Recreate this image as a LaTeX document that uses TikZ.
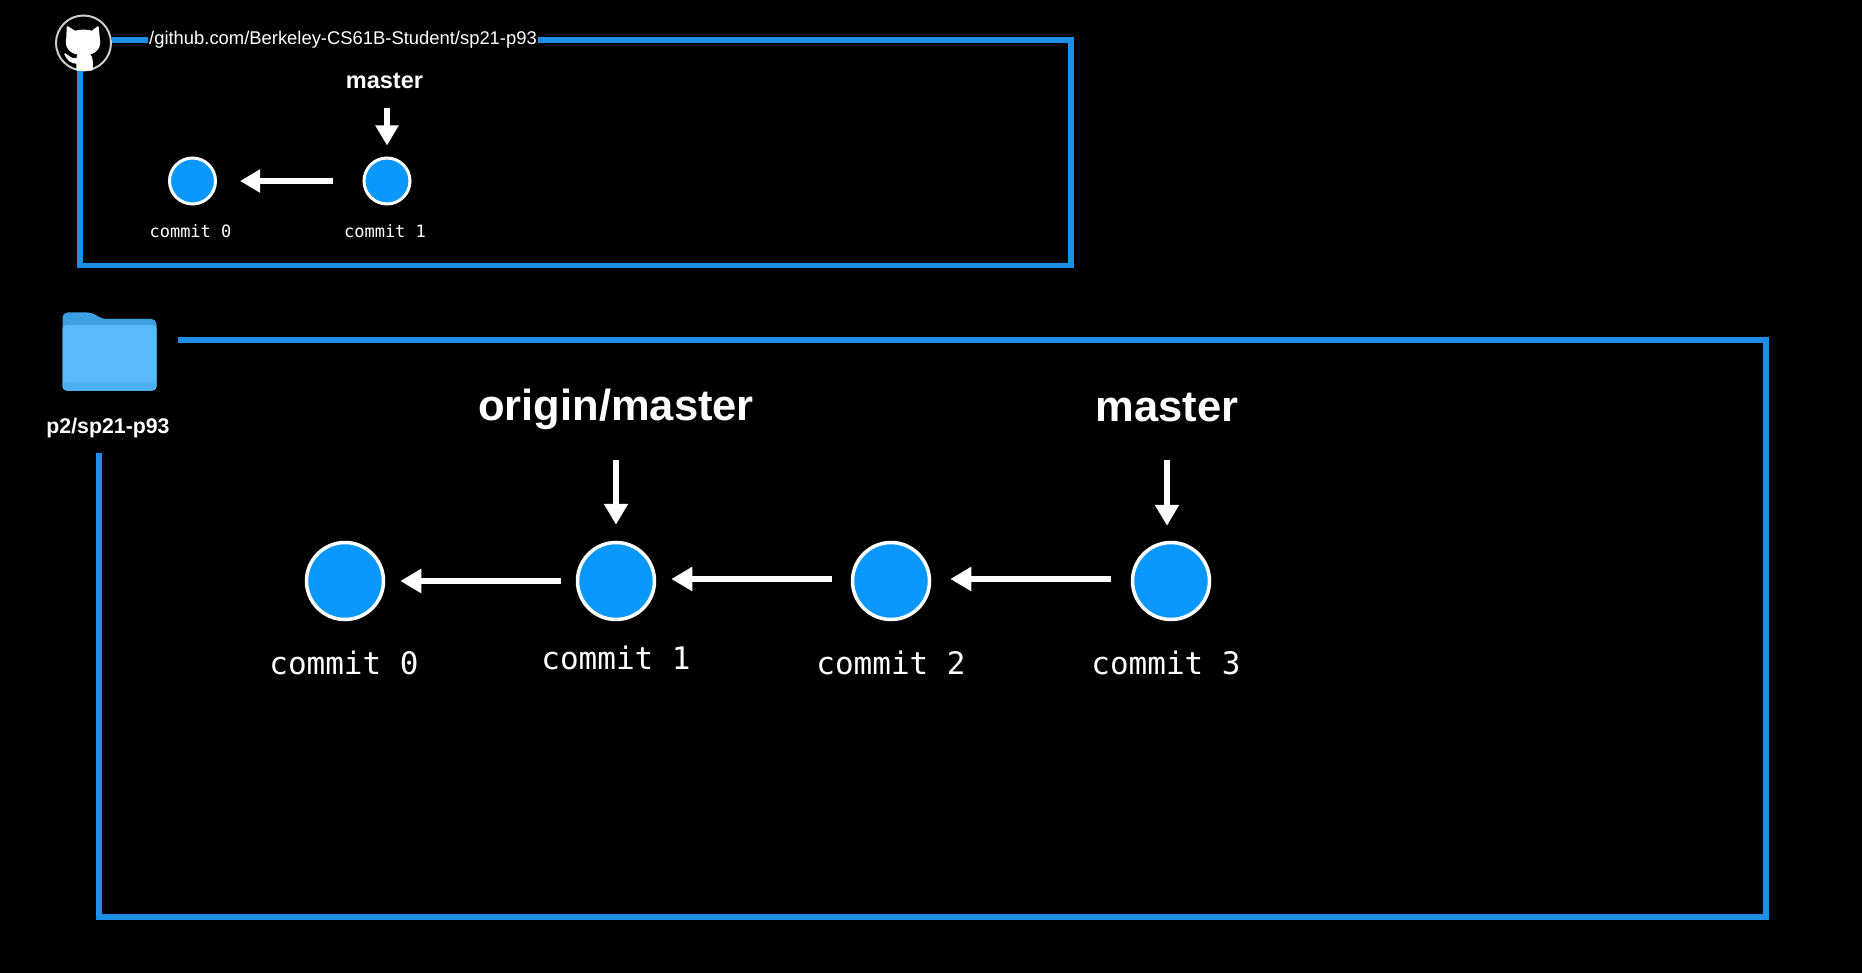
\documentclass[tikz,border=0pt]{standalone}
\usepackage{xcolor}
\usepackage{fontspec}
\usepackage{tikz}
\usetikzlibrary{arrows.meta, positioning}
\setmainfont{Liberation Sans}
\newfontfamily\commitfont{DejaVu Sans Mono}
\definecolor{framecolor}{HTML}{1E8FE6}
\definecolor{commitblue}{HTML}{0A98FF}
\definecolor{folderback}{HTML}{3C9FE2}
\definecolor{folderfront}{HTML}{57BBF9}
\definecolor{folderedge}{HTML}{4DB0F0}
\tikzset{
    frameline/.style={draw=framecolor, line width=5.5pt, line join=miter},
    bigcommit/.style={circle, draw=white, fill=commitblue, line width=3.5pt, minimum size=77pt, inner sep=0pt},
    smallcommit/.style={circle, draw=white, fill=commitblue, line width=3pt, minimum size=46pt, inner sep=0pt},
    biglabel/.style={text=white, font=\commitfont\fontsize{31}{34}\selectfont, inner sep=0pt},
    smalllabel/.style={text=white, font=\commitfont\fontsize{17}{20}\selectfont, inner sep=0pt},
    bigbranch/.style={text=white, font=\bfseries\fontsize{43.5}{48}\selectfont, inner sep=0pt},
    smallbranch/.style={text=white, font=\bfseries\fontsize{23.5}{28}\selectfont, inner sep=0pt},
    bigarrow/.style={draw=white, line width=6pt, -{Triangle[length=21pt, width=23pt]}},
    smallarrow/.style={draw=white, line width=6pt, -{Triangle[length=20pt, width=22pt]}},
}

\begin{document}
\begin{tikzpicture}[x=1pt, y=-1pt]
\fill[black] (0,0) rectangle (1862,973);
\useasboundingbox (0,0) rectangle (1862,973);

% remote repository
\coordinate (remotetr) at (1071,40);
\coordinate (remotebr) at (1071,265.5);
\coordinate (remotebl) at (80,265.5);
\node[circle, draw=white!80!black, fill=black, line width=2pt, minimum size=55pt, inner sep=0pt] (hub) at (83.5,43) {};
\node[text=white, font=\fontsize{18.4}{22}\selectfont, inner sep=1pt] (url) at (343,40) {/github.com/Berkeley-CS61B-Student/sp21-p93};
\draw[frameline] (hub.east |- url) -- (url.west);
\draw[frameline] (url.east) -- (remotetr) -- (remotebr) -- (remotebl) -- (remotebl |- hub.south);
\fill[white, draw=white, line width=1.5pt, line join=round] (67.5,27) -- (75,31.5) .. controls (80,30) and (87,30) .. (92,31.5) -- (98,27)
    -- (99,38) .. controls (101,47) and (96,53) .. (89,54) .. controls (91,56) and (92,58) .. (92,61)
    -- (92,70) -- (77,70) -- (77,63) .. controls (71,63) and (68,60) .. (65,54)
    .. controls (68,56) and (72,60) .. (77,59) .. controls (77,57) and (78,55) .. (79,54)
    .. controls (70,53) and (65,47) .. (67,38) -- cycle;

\node[smallcommit] (rc0) at (192.5,181) {};
\node[smallcommit] (rc1) at (387,181) {};
\node[smalllabel] (rl0) at (190.5,231) {commit 0};
\node[smalllabel] (rl1) at (385,231) {commit 1};
\node[smallbranch] (rmaster) at (384.5,81) {master};
\draw[smallarrow, shorten >=23pt, shorten <=30pt] (rc1) -- (rc0);
\draw[smallarrow, shorten >=11pt, shorten <=19pt] (rmaster.south -| rc1) -- (rc1);

% local repository
\fill[folderback, rounded corners=5pt] (62.5,390.5) -- (62.5,312.5) -- (92,312.5) -- (102,319) -- (156.5,319) -- (156.5,390.5) -- cycle;
\fill[folderfront, rounded corners=4pt] (62.5,390.5) -- (62.5,325) -- (156.5,325) -- (156.5,390.5) -- cycle;
\fill[folderedge, rounded corners=4pt] (62.5,390.5) -- (62.5,382) -- (156.5,382) -- (156.5,390.5) -- cycle;
\node[text=white, font=\bfseries\fontsize{21.3}{25}\selectfont, inner sep=0pt] (path) at (108,427.5) {p2/sp21-p93};
\coordinate (localtl) at (178,340);
\coordinate (localtr) at (1766,340);
\coordinate (localbr) at (1766,917);
\coordinate (localbl) at (99,917);
\coordinate (localend) at (99,453);
\draw[frameline] (localtl) -- (localtr) -- (localbr) -- (localbl) -- (localend);

\node[bigcommit] (c0) at (345,581) {};
\node[bigcommit] (c1) at (616,581) {};
\node[bigcommit] (c2) at (891,581) {};
\node[bigcommit] (c3) at (1171,581) {};
\node[biglabel] (l0) at (344,663) {commit 0};
\node[biglabel] (l1) at (616,658) {commit 1};
\node[biglabel] (l2) at (891,663) {commit 2};
\node[biglabel] (l3) at (1166,663) {commit 3};
\node[bigbranch] (origin) at (616,409.5) {origin/master};
\node[bigbranch] (master) at (1167,407.5) {master};
\draw[bigarrow, shorten >=15pt, shorten <=15pt] (c1) -- (c0);
\draw[bigarrow, shorten >=15pt, shorten <=19pt] ([yshift=2pt]c2.west) -- ([yshift=2pt]c1.east);
\draw[bigarrow, shorten >=19pt, shorten <=20pt] ([yshift=2pt]c3.west) -- ([yshift=2pt]c2.east);
\draw[bigarrow, shorten >=16pt, shorten <=30pt] (origin.south -| c1) -- (c1);
\draw[bigarrow, shorten >=15pt, shorten <=38pt] (master.south) -- (master.south |- c3.north);
\end{tikzpicture}
\end{document}
